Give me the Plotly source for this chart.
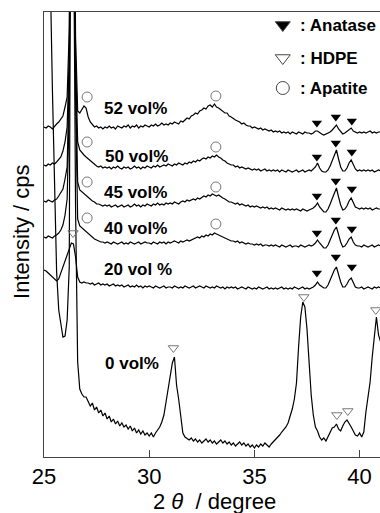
import plotly.graph_objects as go

# 2theta grid (degree), 25.0 .. 41.0 step 0.1
two_theta = [round(25.0 + 0.1 * i, 1) for i in range(161)]

# Intensity (arbitrary cps, offset curves)
i52 = [330, 329, 331, 330, 328, 331, 333, 335, 338, 341,
       350, 360, 427, 720, 680, 420, 346, 344, 347, 351,
       349, 340, 335, 332, 330, 331, 329, 330, 328, 330,
       329, 331, 329, 330, 328, 331, 330, 329, 331, 330,
       332, 329, 331, 330, 332, 329, 331, 330, 332, 331,
       330, 332, 331, 333, 331, 332, 334, 332, 333, 332,
       334, 333, 335, 334, 333, 336, 335, 337, 339, 338,
       341, 342, 344, 343, 346, 347, 349, 348, 351, 352,
       350, 353, 350, 349, 347, 346, 344, 344, 341, 340,
       338, 337, 336, 335, 333, 334, 332, 331, 331, 329,
       330, 329, 328, 329, 327, 328, 327, 326, 327, 325,
       326, 325, 326, 324, 325, 324, 325, 323, 325, 324,
       323, 325, 324, 323, 325, 324, 324, 323, 324, 326,
       326, 324, 323, 322, 323, 324, 325, 327, 329, 332,
       328, 325, 323, 324, 326, 328, 329, 326, 325, 324,
       325, 324, 325, 324, 325, 326, 324, 325, 324, 325,
       325]
i50 = [292, 291, 293, 292, 294, 293, 295, 297, 300, 306,
       315, 330, 400, 700, 660, 400, 315, 307, 304, 302,
       300, 298, 296, 294, 292, 291, 290, 291, 289, 290,
       289, 290, 288, 290, 289, 291, 289, 288, 290, 289,
       290, 288, 289, 291, 289, 290, 288, 290, 289, 291,
       290, 289, 291, 290, 292, 290, 291, 292, 291, 293,
       292, 291, 293, 292, 294, 293, 292, 294, 293, 295,
       294, 296, 295, 297, 296, 298, 299, 298, 300, 299,
       301, 300, 302, 300, 299, 297, 296, 294, 293, 292,
       292, 290, 291, 289, 290, 289, 288, 289, 288, 287,
       288, 287, 288, 286, 287, 288, 286, 287, 286, 287,
       286, 287, 285, 287, 286, 285, 287, 286, 285, 286,
       287, 285, 286, 287, 285, 286, 287, 286, 288, 290,
       294, 289, 286, 285, 285, 287, 291, 297, 303, 307,
       298, 290, 286, 286, 289, 294, 297, 292, 288, 286,
       287, 286, 287, 286, 287, 286, 287, 285, 286, 287,
       286]
i45 = [256, 255, 257, 256, 255, 257, 258, 261, 264, 268,
       278, 290, 380, 690, 650, 380, 275, 267, 265, 263,
       262, 260, 258, 256, 255, 253, 253, 252, 251, 252,
       251, 252, 250, 251, 252, 250, 251, 252, 250, 251,
       252, 250, 251, 253, 251, 252, 250, 252, 251, 253,
       252, 251, 253, 252, 254, 252, 253, 252, 254, 253,
       254, 253, 255, 254, 253, 255, 256, 255, 257, 256,
       257, 258, 257, 259, 258, 260, 261, 260, 262, 261,
       263, 262, 261, 262, 260, 259, 258, 256, 255, 255,
       254, 253, 254, 252, 253, 252, 251, 252, 250, 251,
       250, 251, 250, 249, 250, 249, 250, 248, 249, 248,
       249, 248, 247, 249, 248, 247, 248, 247, 248, 247,
       248, 247, 246, 248, 247, 246, 247, 248, 249, 251,
       254, 250, 247, 245, 245, 248, 253, 259, 265, 269,
       260, 252, 247, 248, 251, 256, 259, 254, 250, 249,
       248, 249, 248, 249, 248, 249, 247, 248, 249, 248,
       248]
i40 = [220, 219, 221, 220, 219, 221, 222, 224, 227, 232,
       242, 258, 350, 680, 640, 360, 238, 231, 229, 228,
       226, 224, 222, 220, 218, 217, 216, 215, 215, 214,
       215, 214, 213, 215, 214, 213, 214, 215, 213, 214,
       213, 215, 214, 213, 214, 215, 213, 214, 215, 214,
       214, 213, 215, 214, 213, 215, 214, 215, 213, 215,
       214, 215, 216, 215, 214, 216, 215, 216, 217, 216,
       217, 218, 219, 220, 219, 221, 220, 222, 221, 223,
       222, 224, 223, 222, 221, 220, 219, 218, 217, 216,
       216, 215, 216, 214, 215, 214, 213, 214, 213, 213,
       212, 213, 212, 213, 211, 212, 212, 211, 212, 211,
       212, 211, 210, 212, 211, 210, 211, 212, 210, 211,
       211, 210, 212, 211, 210, 211, 212, 211, 212, 214,
       217, 214, 211, 209, 209, 212, 217, 222, 227, 230,
       222, 215, 210, 211, 214, 218, 220, 215, 212, 211,
       211, 210, 212, 211, 210, 211, 212, 210, 211, 212,
       211]
i20 = [187, 186, 184, 182, 180, 178, 176, 178, 184, 190,
       195, 200, 208, 214, 213, 200, 180, 175, 174, 175,
       174, 174, 173, 174, 172, 173, 174, 172, 173, 172,
       173, 171, 172, 173, 171, 172, 171, 172, 170, 171,
       172, 170, 171, 170, 172, 170, 171, 169, 171, 170,
       171, 170, 169, 171, 170, 169, 170, 171, 169, 170,
       170, 169, 171, 170, 169, 170, 169, 171, 170, 169,
       170, 171, 169, 170, 171, 170, 169, 171, 170, 169,
       170, 169, 171, 170, 169, 170, 168, 170, 169, 170,
       169, 170, 168, 169, 170, 169, 168, 170, 169, 168,
       169, 168, 170, 169, 168, 169, 170, 168, 169, 168,
       169, 168, 169, 170, 168, 169, 168, 169, 168, 170,
       169, 168, 169, 170, 168, 169, 168, 169, 170, 172,
       175, 172, 170, 169, 169, 172, 177, 182, 187, 190,
       182, 175, 170, 170, 173, 177, 179, 174, 170, 169,
       169, 170, 168, 169, 170, 169, 168, 170, 169, 170,
       169]
i0 = [1300, 1000, 720, 480, 367, 287, 185, 147, 132, 120,
      121, 137, 190, 750, 560, 250, 95, 68, 63, 60,
      60, 55, 51, 54, 47, 50, 44, 47, 41, 44,
      38, 41, 35, 38, 33, 36, 31, 34, 30, 32,
      28, 31, 26, 29, 24, 27, 23, 26, 22, 24,
      21, 24, 20, 24, 27, 30, 35, 42, 55, 68,
      80, 94, 100, 72, 58, 38, 24, 20, 18, 17,
      19, 16, 18, 15, 17, 14, 16, 18, 15, 17,
      14, 16, 13, 15, 17, 14, 16, 13, 15, 12,
      14, 11, 13, 15, 12, 14, 11, 13, 10, 12,
      9, 12, 10, 13, 11, 14, 12, 10, 13, 15,
      18, 20, 22, 25, 27, 30, 34, 40, 48, 58,
      74, 110, 140, 155, 150, 128, 95, 62, 42, 30,
      26, 20, 17, 19, 16, 20, 24, 29, 30, 33,
      28, 26, 31, 35, 37, 34, 30, 26, 22, 21,
      24, 20, 25, 45, 58, 75, 100, 117, 140, 122,
      115]

curves = [i52, i50, i45, i40, i20, i0]
labels = ["52 vol%", "50 vol%", "45 vol%", "40 vol%", "20 vol %", "0 vol%"]
label_x = [27.76, 27.8, 27.76, 27.76, 27.76, 27.8]
label_y = [349, 301, 265, 229, 188, 94]

# peak markers
anatase_x = [37.97, 38.87, 39.63]
anatase_y = [[334, 340, 336], [300, 314, 305], [261, 276, 268],
             [224, 237, 228], [184, 200, 190]]
hdpe_x = [26.38, 31.15, 37.35, 38.92, 39.44, 40.77]
hdpe_y = [224, 109, 160, 42, 46, 147]
apatite_x = [27.05, 33.17]
apatite_y = [[360, 361], [315, 310], [275, 270], [239, 233]]

legend_names = [": Anatase", ": HDPE", ": Apatite"]
legend_y = [432, 399, 369]

FONT = "Liberation Sans, Arial, sans-serif"

fig = go.Figure()
for c in curves:
    fig.add_trace(go.Scatter(x=two_theta, y=c, mode="lines",
                             line=dict(color="black", width=1.2),
                             showlegend=False, hoverinfo="skip"))

ax, ay = [], []
for ys in anatase_y:
    ax += anatase_x
    ay += ys
fig.add_trace(go.Scatter(x=ax, y=ay, mode="markers",
                         marker=dict(symbol="triangle-down", size=9, color="black"),
                         showlegend=False, cliponaxis=False))
fig.add_trace(go.Scatter(x=hdpe_x, y=hdpe_y, mode="markers",
                         marker=dict(symbol="triangle-down-open", size=9,
                                     color="#777", line=dict(width=1)),
                         showlegend=False, cliponaxis=False))
px_, py_ = [], []
for ys in apatite_y:
    px_ += apatite_x
    py_ += ys
fig.add_trace(go.Scatter(x=px_, y=py_, mode="markers",
                         marker=dict(symbol="circle-open", size=10,
                                     color="#777", line=dict(width=1)),
                         showlegend=False, cliponaxis=False))

# legend symbols
fig.add_trace(go.Scatter(x=[36.35] * 3, y=legend_y, mode="markers",
                         marker=dict(symbol=["triangle-down", "triangle-down-open", "circle-open"],
                                     size=13, color=["black", "#444", "#444"],
                                     line=dict(width=1)),
                         showlegend=False))
for name, yy in zip(legend_names, legend_y):
    fig.add_annotation(x=37.07, y=yy, text="<b>" + name + "</b>", showarrow=False,
                       xanchor="left", yanchor="middle",
                       font=dict(family=FONT, size=17, color="black"))

for lab, lx, ly in zip(labels, label_x, label_y):
    fig.add_annotation(x=lx, y=ly, text="<b>" + lab + "</b>", showarrow=False,
                       xanchor="left", yanchor="middle",
                       font=dict(family=FONT, size=17, color="black"))

fig.add_annotation(xref="paper", yref="paper", x=-0.0655, y=0.508,
                   text="Intensity / cps", textangle=-90, showarrow=False,
                   xanchor="center", yanchor="middle",
                   font=dict(family=FONT, size=22, color="black"))
fig.add_annotation(xref="paper", yref="paper", x=0.506, y=-0.101,
                   text="2 <i>θ</i>  / degree", showarrow=False,
                   xanchor="center", yanchor="middle",
                   font=dict(family=FONT, size=22, color="black"))

fig.update_layout(
    width=380, height=513,
    margin=dict(l=44, r=0, t=12, b=56),
    plot_bgcolor="white", paper_bgcolor="white",
    xaxis=dict(range=[25, 40.97], tickvals=[25, 30, 35, 40],
               ticks="inside", ticklen=7, tickcolor="#444",
               showline=True, linecolor="#444", linewidth=1, mirror=True,
               showgrid=False, zeroline=False,
               tickfont=dict(family=FONT, size=22, color="black")),
    yaxis=dict(range=[0, 445], showticklabels=False, ticks="",
               showline=True, linecolor="#444", linewidth=1,
               showgrid=False, zeroline=False),
)

fig.write_html("out.html")
